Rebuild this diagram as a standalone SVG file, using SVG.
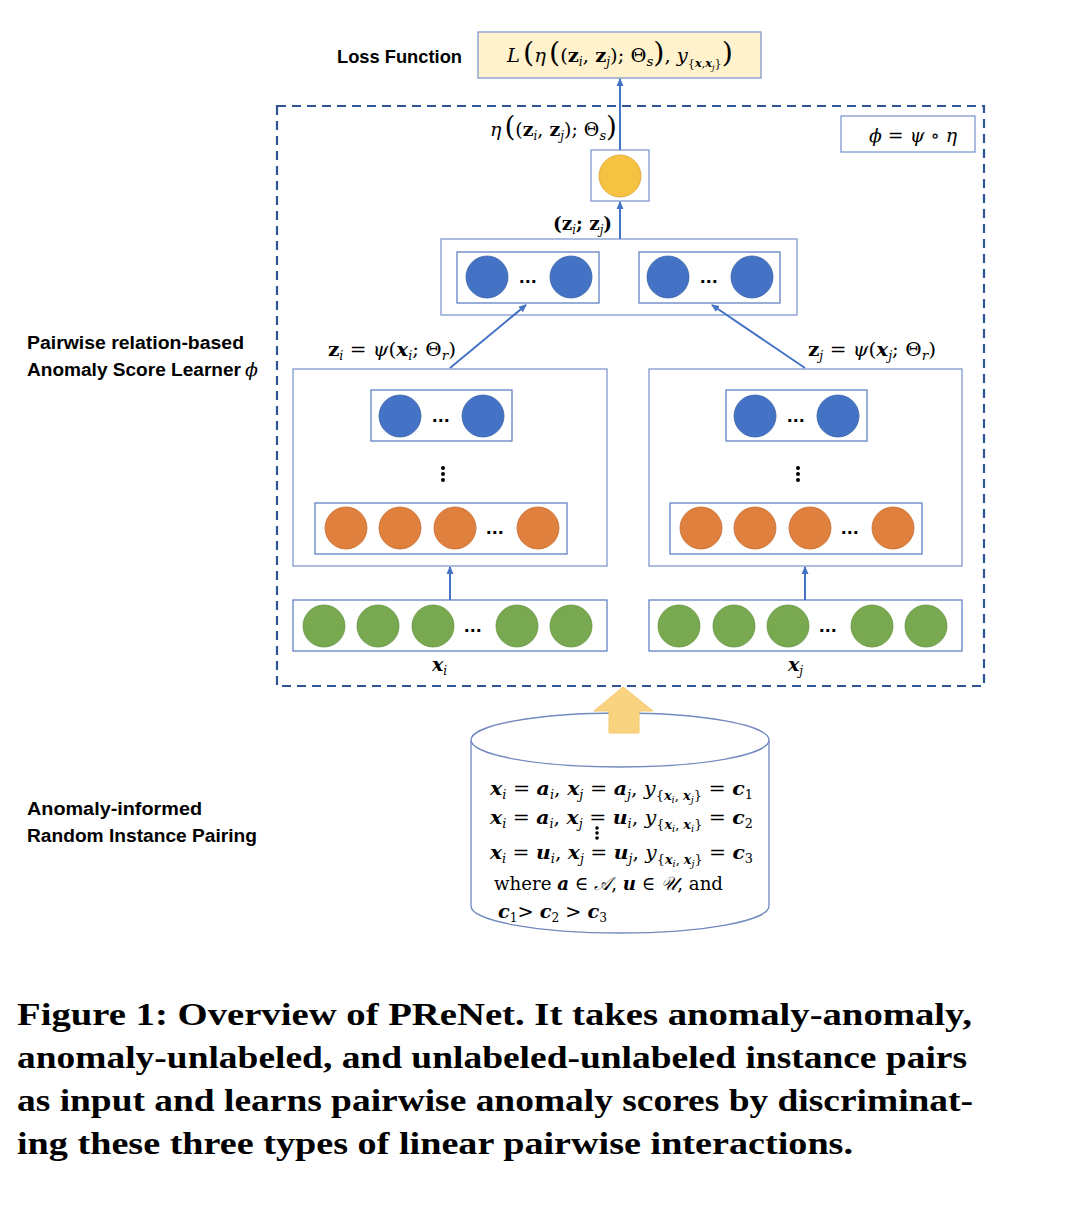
<svg xmlns="http://www.w3.org/2000/svg" width="1084" height="1206" viewBox="0 0 1084 1206">
<style>
.lbl{font-family:"Liberation Sans","Open Sans",sans-serif;font-weight:bold;font-size:18px;fill:#000}
.m{font-family:"DejaVu Serif","Liberation Serif",serif;font-size:19px;fill:#000}
.bi{font-weight:bold;font-style:italic}
.b{font-weight:bold}
.i{font-style:italic}
.box{fill:#fff;stroke:#5577C0;stroke-width:1.2}
.obox{fill:#fff;stroke:#7F99D0;stroke-width:1.3}
.blue{fill:#4472C4;stroke:#3A62AA;stroke-width:0.8}
.orange{fill:#E0803F;stroke:#C86B2E;stroke-width:0.8}
.green{fill:#78A84F;stroke:#669541;stroke-width:0.8}
.dots{font-family:"Liberation Sans",sans-serif;font-weight:bold;font-size:20px;fill:#000;letter-spacing:0.5px}
.conn{stroke:#4472C4;stroke-width:2;fill:none}
.cap{font-family:"Liberation Serif","DejaVu Serif",serif;font-weight:bold;font-size:32px;fill:#000}
</style>
<defs>
<marker id="ah" markerWidth="8" markerHeight="8" refX="7" refY="4" orient="auto" markerUnits="userSpaceOnUse">
<path d="M0,0.5 L8,4 L0,7.5 z" fill="#4472C4"/>
</marker>
</defs>

<!-- Dashed learner region -->
<rect id="learner" x="277" y="106" width="707" height="580" fill="none" stroke="#2F5597" stroke-width="2.2" stroke-dasharray="9 6"/>

<!-- Loss function -->
<g id="loss">
<text class="lbl" x="337" y="63" font-size="19" textLength="125" lengthAdjust="spacingAndGlyphs">Loss Function</text>
<rect x="478" y="32" width="283" height="46" fill="#FFF2CC" stroke="#7F99D0" stroke-width="1.3"/>
<text class="m" x="507" y="62" textLength="226" lengthAdjust="spacingAndGlyphs"><tspan class="i">L</tspan><tspan font-size="28" dx="3">(</tspan><tspan class="i">η</tspan><tspan font-size="28" dx="3">(</tspan>(<tspan class="b">z</tspan><tspan class="i" font-size="12" baseline-shift="-4">i</tspan>, <tspan class="b">z</tspan><tspan class="i" font-size="12" baseline-shift="-4">j</tspan>); Θ<tspan class="i" font-size="13" baseline-shift="-4">s</tspan><tspan font-size="28">)</tspan>, <tspan class="i">y</tspan><tspan font-size="11" baseline-shift="-5">{</tspan><tspan class="bi" font-size="11" baseline-shift="-5">x</tspan><tspan font-size="11" baseline-shift="-5">,</tspan><tspan class="bi" font-size="11" baseline-shift="-5">x</tspan><tspan class="i" font-size="8" baseline-shift="-8">j</tspan><tspan font-size="11" baseline-shift="-5">}</tspan><tspan font-size="28">)</tspan></text>
</g>

<!-- phi definition -->
<g id="phi">
<rect x="841" y="116" width="134" height="36" fill="#fff" stroke="#7F99D0" stroke-width="1.3"/>
<text class="m" x="869" y="142" textLength="88" lengthAdjust="spacingAndGlyphs"><tspan class="i">ϕ</tspan> = <tspan class="i">ψ</tspan> ∘ <tspan class="i">η</tspan></text>
</g>

<!-- output node -->
<g id="output">
<text class="m" x="490" y="136" textLength="127" lengthAdjust="spacingAndGlyphs"><tspan class="i">η</tspan><tspan font-size="28" dx="3">(</tspan>(<tspan class="b">z</tspan><tspan class="i" font-size="12" baseline-shift="-4">i</tspan>, <tspan class="b">z</tspan><tspan class="i" font-size="12" baseline-shift="-4">j</tspan>); Θ<tspan class="i" font-size="13" baseline-shift="-4">s</tspan><tspan font-size="28">)</tspan></text>
<rect class="obox" x="591" y="150" width="58" height="51"/>
<circle cx="620" cy="176" r="21" fill="#F5C242" stroke="#D9A530" stroke-width="0.8"/>
</g>

<!-- concat layer -->
<g id="concat">
<text class="m" x="553" y="230" textLength="59" lengthAdjust="spacingAndGlyphs"><tspan class="b">(z</tspan><tspan class="i" font-size="12" baseline-shift="-4">i</tspan><tspan class="b">; z</tspan><tspan class="i" font-size="12" baseline-shift="-4">j</tspan><tspan class="b">)</tspan></text>
<rect class="obox" x="441" y="239" width="356" height="76"/>
<rect class="box" x="457" y="252" width="142" height="51"/>
<circle class="blue" cx="487" cy="277" r="21"/>
<circle class="blue" cx="571" cy="277" r="21"/>
<text class="dots" x="528" y="283" text-anchor="middle">...</text>
<rect class="box" x="639" y="252" width="141" height="51"/>
<circle class="blue" cx="668" cy="277" r="21"/>
<circle class="blue" cx="752" cy="277" r="21"/>
<text class="dots" x="709" y="283" text-anchor="middle">...</text>
</g>

<!-- left encoder -->
<g id="encoder-i">
<text class="m" x="328" y="356" textLength="128" lengthAdjust="spacingAndGlyphs"><tspan class="b">z</tspan><tspan class="i" font-size="12" baseline-shift="-4">i</tspan> = <tspan class="i">ψ</tspan>(<tspan class="bi">x</tspan><tspan class="i" font-size="12" baseline-shift="-4">i</tspan>; Θ<tspan class="i" font-size="13" baseline-shift="-4">r</tspan>)</text>
<rect class="obox" x="293" y="369" width="314" height="197"/>
<rect class="box" x="371" y="390" width="141" height="51"/>
<circle class="blue" cx="400" cy="416" r="21"/>
<circle class="blue" cx="483" cy="416" r="21"/>
<text class="dots" x="441" y="422" text-anchor="middle">...</text>
<circle cx="443" cy="468" r="2"/><circle cx="443" cy="474" r="2"/><circle cx="443" cy="480" r="2"/>
<rect class="box" x="315" y="503" width="252" height="51"/>
<circle class="orange" cx="346" cy="528" r="21"/>
<circle class="orange" cx="400" cy="528" r="21"/>
<circle class="orange" cx="455" cy="528" r="21"/>
<circle class="orange" cx="538" cy="528" r="21"/>
<text class="dots" x="495" y="534" text-anchor="middle">...</text>
</g>

<!-- right encoder -->
<g id="encoder-j">
<text class="m" x="808" y="356" textLength="128" lengthAdjust="spacingAndGlyphs"><tspan class="b">z</tspan><tspan class="i" font-size="12" baseline-shift="-4">j</tspan> = <tspan class="i">ψ</tspan>(<tspan class="bi">x</tspan><tspan class="i" font-size="12" baseline-shift="-4">j</tspan>; Θ<tspan class="i" font-size="13" baseline-shift="-4">r</tspan>)</text>
<rect class="obox" x="649" y="369" width="313" height="197"/>
<rect class="box" x="726" y="390" width="141" height="51"/>
<circle class="blue" cx="755" cy="416" r="21"/>
<circle class="blue" cx="838" cy="416" r="21"/>
<text class="dots" x="796" y="422" text-anchor="middle">...</text>
<circle cx="798" cy="468" r="2"/><circle cx="798" cy="474" r="2"/><circle cx="798" cy="480" r="2"/>
<rect class="box" x="670" y="503" width="252" height="51"/>
<circle class="orange" cx="701" cy="528" r="21"/>
<circle class="orange" cx="755" cy="528" r="21"/>
<circle class="orange" cx="810" cy="528" r="21"/>
<circle class="orange" cx="893" cy="528" r="21"/>
<text class="dots" x="850" y="534" text-anchor="middle">...</text>
</g>

<!-- inputs -->
<g id="input-i">
<rect class="box" x="293" y="600" width="314" height="51"/>
<ellipse class="green" cx="324" cy="626" rx="21" ry="21"/>
<ellipse class="green" cx="378" cy="626" rx="21" ry="21"/>
<ellipse class="green" cx="433" cy="626" rx="21" ry="21"/>
<ellipse class="green" cx="517" cy="626" rx="21" ry="21"/>
<ellipse class="green" cx="571" cy="626" rx="21" ry="21"/>
<text class="dots" x="473" y="632" text-anchor="middle">...</text>
<text class="m" x="432" y="671"><tspan class="bi">x</tspan><tspan class="i" font-size="12" baseline-shift="-4">i</tspan></text>
</g>
<g id="input-j">
<rect class="box" x="649" y="600" width="313" height="51"/>
<ellipse class="green" cx="679" cy="626" rx="21" ry="21"/>
<ellipse class="green" cx="734" cy="626" rx="21" ry="21"/>
<ellipse class="green" cx="788" cy="626" rx="21" ry="21"/>
<ellipse class="green" cx="872" cy="626" rx="21" ry="21"/>
<ellipse class="green" cx="926" cy="626" rx="21" ry="21"/>
<text class="dots" x="828" y="632" text-anchor="middle">...</text>
<text class="m" x="788" y="671"><tspan class="bi">x</tspan><tspan class="i" font-size="12" baseline-shift="-4">j</tspan></text>
</g>

<!-- left labels -->
<g id="labels">
<text class="lbl" x="27" y="349" textLength="217" lengthAdjust="spacingAndGlyphs">Pairwise relation-based</text>
<text class="lbl" x="27" y="376"><tspan textLength="214" lengthAdjust="spacingAndGlyphs">Anomaly Score Learner</tspan><tspan font-family="DejaVu Serif,serif" font-style="italic" font-weight="normal" font-size="19" dx="4">ϕ</tspan></text>
<text class="lbl" x="27" y="815" textLength="175" lengthAdjust="spacingAndGlyphs">Anomaly-informed</text>
<text class="lbl" x="27" y="842" textLength="230" lengthAdjust="spacingAndGlyphs">Random Instance Pairing</text>
</g>

<!-- pairing database -->
<g id="pairing">
<path d="M471,740 L471,906 A149,27 0 0 0 769,906 L769,740" fill="#fff" stroke="#7189BF" stroke-width="1.3"/>
<ellipse cx="620" cy="740" rx="149" ry="27" fill="#fff" stroke="#7189BF" stroke-width="1.3"/>
<text class="m" x="490" y="795" textLength="263" lengthAdjust="spacingAndGlyphs"><tspan class="bi">x</tspan><tspan class="i" font-size="12" baseline-shift="-4">i</tspan> = <tspan class="bi">a</tspan><tspan class="i" font-size="12" baseline-shift="-4">i</tspan>, <tspan class="bi">x</tspan><tspan class="i" font-size="12" baseline-shift="-4">j</tspan> = <tspan class="bi">a</tspan><tspan class="i" font-size="12" baseline-shift="-4">j</tspan>, <tspan class="i">y</tspan><tspan font-size="12" baseline-shift="-5">{</tspan><tspan class="bi" font-size="12" baseline-shift="-5">x</tspan><tspan class="i" font-size="9" baseline-shift="-8">i</tspan><tspan font-size="12" baseline-shift="-5">, </tspan><tspan class="bi" font-size="12" baseline-shift="-5">x</tspan><tspan class="i" font-size="9" baseline-shift="-8">j</tspan><tspan font-size="12" baseline-shift="-5">}</tspan> = <tspan class="bi">c</tspan><tspan font-size="12" baseline-shift="-4">1</tspan></text>
<text class="m" x="490" y="824" textLength="263" lengthAdjust="spacingAndGlyphs"><tspan class="bi">x</tspan><tspan class="i" font-size="12" baseline-shift="-4">i</tspan> = <tspan class="bi">a</tspan><tspan class="i" font-size="12" baseline-shift="-4">i</tspan>, <tspan class="bi">x</tspan><tspan class="i" font-size="12" baseline-shift="-4">j</tspan> = <tspan class="bi">u</tspan><tspan class="i" font-size="12" baseline-shift="-4">i</tspan>, <tspan class="i">y</tspan><tspan font-size="12" baseline-shift="-5">{</tspan><tspan class="bi" font-size="12" baseline-shift="-5">x</tspan><tspan class="i" font-size="9" baseline-shift="-8">i</tspan><tspan font-size="12" baseline-shift="-5">, </tspan><tspan class="bi" font-size="12" baseline-shift="-5">x</tspan><tspan class="i" font-size="9" baseline-shift="-8">i</tspan><tspan font-size="12" baseline-shift="-5">}</tspan> = <tspan class="bi">c</tspan><tspan font-size="12" baseline-shift="-4">2</tspan></text>
<circle cx="597" cy="828" r="1.8"/><circle cx="597" cy="833" r="1.8"/><circle cx="597" cy="838" r="1.8"/>
<text class="m" x="490" y="859" textLength="263" lengthAdjust="spacingAndGlyphs"><tspan class="bi">x</tspan><tspan class="i" font-size="12" baseline-shift="-4">i</tspan> = <tspan class="bi">u</tspan><tspan class="i" font-size="12" baseline-shift="-4">i</tspan>, <tspan class="bi">x</tspan><tspan class="i" font-size="12" baseline-shift="-4">j</tspan> = <tspan class="bi">u</tspan><tspan class="i" font-size="12" baseline-shift="-4">j</tspan>, <tspan class="i">y</tspan><tspan font-size="12" baseline-shift="-5">{</tspan><tspan class="bi" font-size="12" baseline-shift="-5">x</tspan><tspan class="i" font-size="9" baseline-shift="-8">i</tspan><tspan font-size="12" baseline-shift="-5">, </tspan><tspan class="bi" font-size="12" baseline-shift="-5">x</tspan><tspan class="i" font-size="9" baseline-shift="-8">j</tspan><tspan font-size="12" baseline-shift="-5">}</tspan> = <tspan class="bi">c</tspan><tspan font-size="12" baseline-shift="-4">3</tspan></text>
<text class="m" x="494" y="890" textLength="229" lengthAdjust="spacingAndGlyphs">where <tspan class="bi">a</tspan> ∈ <tspan class="i">𝒜</tspan>, <tspan class="bi">u</tspan> ∈ <tspan class="i">𝒰</tspan>, and</text>
<text class="m" x="498" y="918" textLength="109" lengthAdjust="spacingAndGlyphs"><tspan class="bi">c</tspan><tspan font-size="12" baseline-shift="-4">1</tspan>&gt; <tspan class="bi">c</tspan><tspan font-size="12" baseline-shift="-4">2</tspan> &gt; <tspan class="bi">c</tspan><tspan font-size="12" baseline-shift="-4">3</tspan></text>
</g>

<!-- connectors -->
<g id="connectors">
<line class="conn" x1="620" y1="150" x2="620" y2="79" marker-end="url(#ah)"/>
<line class="conn" x1="620" y1="239" x2="620" y2="202" marker-end="url(#ah)"/>
<line class="conn" x1="450" y1="368" x2="526" y2="305" marker-end="url(#ah)"/>
<line class="conn" x1="805" y1="368" x2="712" y2="305" marker-end="url(#ah)"/>
<line class="conn" x1="450" y1="600" x2="450" y2="567" marker-end="url(#ah)"/>
<line class="conn" x1="805" y1="600" x2="805" y2="567" marker-end="url(#ah)"/>
<polygon points="623,687 653,711 639,711 639,733 609,733 609,711 594,711" fill="#F9D380" stroke="#F4C870" stroke-width="1"/>
</g>

<!-- caption -->
<g id="caption">
<text class="cap" x="17" y="1025" textLength="955" lengthAdjust="spacingAndGlyphs">Figure 1: Overview of PReNet. It takes anomaly-anomaly,</text>
<text class="cap" x="17" y="1068" textLength="950" lengthAdjust="spacingAndGlyphs">anomaly-unlabeled, and unlabeled-unlabeled instance pairs</text>
<text class="cap" x="17" y="1111" textLength="956" lengthAdjust="spacingAndGlyphs">as input and learns pairwise anomaly scores by discriminat-</text>
<text class="cap" x="17" y="1154" textLength="836" lengthAdjust="spacingAndGlyphs">ing these three types of linear pairwise interactions.</text>
</g>
</svg>
